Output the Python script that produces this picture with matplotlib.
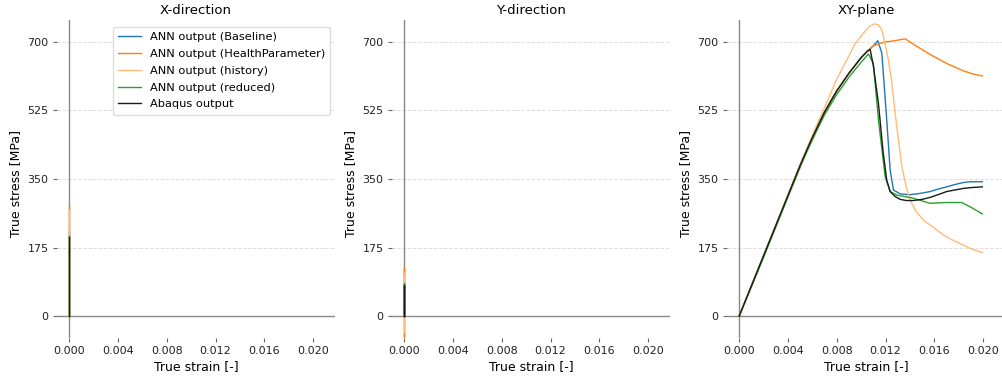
import matplotlib
matplotlib.use("Agg")
import matplotlib.pyplot as plt

# ---------------- data ----------------
series_labels = ["ANN output (Baseline)", "ANN output (HealthParameter)",
                 "ANN output (history)", "ANN output (reduced)", "Abaqus output"]
series_colors = ["#1f77b4", "#ff7f0e", "#ffbb78", "#2ca02c", "#1a1a1a"]

panel_titles = ["X-direction", "Y-direction", "XY-plane"]
y_ticks = [0, 175, 350, 525, 700]
x_ticks = [0.000, 0.004, 0.008, 0.012, 0.016, 0.020]

# X-direction: strain stays at ~0 while stress rises
x_dir_strain = [0.0, 0.0]
x_dir_stress = {
    "ANN output (Baseline)":        [0.0, 215.0],
    "ANN output (HealthParameter)": [0.0, 284.0],
    "ANN output (history)":         [0.0, 270.0],
    "ANN output (reduced)":         [0.0, 205.0],
    "Abaqus output":                [0.0, 202.0],
}

# Y-direction
y_dir_strain = [0.0, 0.0, 0.0]
y_dir_stress = {
    "ANN output (Baseline)":        [0.0, 80.0, 0.0],
    "ANN output (HealthParameter)": [0.0, 123.0, -54.0],
    "ANN output (history)":         [0.0, 110.0, -40.0],
    "ANN output (reduced)":         [0.0, 84.0, 0.0],
    "Abaqus output":                [0.0, 80.0, 0.0],
}

# XY-plane (shear)
abaqus_strain = [0.0, 0.002, 0.004, 0.005, 0.0055, 0.006, 0.007, 0.008, 0.009, 0.010,
                 0.0105, 0.01074, 0.0110, 0.01142, 0.0118, 0.0121, 0.01238,
                 0.0128, 0.0132, 0.0137, 0.01429, 0.0150, 0.01566, 0.0164,
                 0.01702, 0.0177, 0.01839, 0.0190, 0.01994]
abaqus_stress = [0.0, 154.0, 308.0, 385.0, 421.0, 456.0, 521.0, 575.0, 620.0, 660.0,
                 676.0, 681.0, 640.0, 543.0, 420.0, 347.0, 318.0,
                 305.0, 298.0, 295.0, 295.0, 298.0, 303.0, 311.0,
                 318.0, 322.0, 326.0, 328.0, 330.0]

baseline_strain = [0.0, 0.002, 0.004, 0.005, 0.0055, 0.006, 0.007, 0.008, 0.009, 0.010,
                   0.0105, 0.0110, 0.01137, 0.0117, 0.0121, 0.01238, 0.01265,
                   0.0132, 0.0140, 0.01457, 0.0150, 0.01566, 0.0164, 0.01702,
                   0.0177, 0.01839, 0.0190, 0.01994]
baseline_stress = [0.0, 154.0, 308.0, 385.0, 421.0, 456.0, 521.0, 575.0, 620.0, 660.0,
                   676.0, 690.0, 703.0, 671.0, 501.0, 373.0, 322.0,
                   312.0, 310.0, 312.0, 314.0, 318.0, 325.0, 330.0,
                   336.0, 341.0, 343.0, 343.0]

health_strain = [0.0, 0.002, 0.004, 0.005, 0.0055, 0.006, 0.007, 0.008, 0.009, 0.010,
                 0.0105, 0.0110, 0.01183, 0.0127, 0.01361, 0.0145, 0.01566,
                 0.01702, 0.01839, 0.0192, 0.01994]
health_stress = [0.0, 154.0, 308.0, 385.0, 421.0, 456.0, 521.0, 575.0, 620.0, 660.0,
                 676.0, 690.0, 699.0, 703.0, 708.0, 690.0, 668.0,
                 645.0, 626.0, 618.0, 613.0]

history_strain = [0.0, 0.002, 0.004, 0.005, 0.0055, 0.006, 0.007, 0.00746, 0.008,
                  0.00883, 0.0095, 0.01019, 0.0107, 0.01107, 0.0114, 0.0117, 0.0120,
                  0.01224, 0.0125, 0.01279, 0.0131, 0.01334, 0.0137, 0.01402,
                  0.0145, 0.01511, 0.0160, 0.01675, 0.0175, 0.01839, 0.0190,
                  0.01994]
history_stress = [0.0, 154.0, 310.0, 388.0, 425.0, 462.0, 533.0, 565.0, 605.0,
                  654.0, 695.0, 722.0, 740.0, 746.0, 744.0, 731.0, 690.0,
                  654.0, 600.0, 518.0, 440.0, 381.0, 330.0, 296.0,
                  268.0, 245.0, 225.0, 207.0, 194.0, 181.0, 172.0,
                  162.0]

reduced_strain = [0.0, 0.002, 0.004, 0.005, 0.0055, 0.006, 0.007, 0.008, 0.009, 0.010,
                  0.0106, 0.0110, 0.01142, 0.01197, 0.01238, 0.01292, 0.0136,
                  0.01429, 0.0150, 0.01566, 0.01702, 0.01825, 0.0190, 0.01994]
reduced_stress = [0.0, 150.0, 304.0, 380.0, 416.0, 450.0, 514.0, 566.0, 610.0, 648.0,
                  669.0, 645.0, 501.0, 356.0, 318.0, 309.0, 305.0,
                  301.0, 294.0, 288.0, 290.0, 290.0, 278.0, 261.0]

xy_strain = {
    "ANN output (Baseline)": baseline_strain,
    "ANN output (HealthParameter)": health_strain,
    "ANN output (history)": history_strain,
    "ANN output (reduced)": reduced_strain,
    "Abaqus output": abaqus_strain,
}
xy_stress = {
    "ANN output (Baseline)": baseline_stress,
    "ANN output (HealthParameter)": health_stress,
    "ANN output (history)": history_stress,
    "ANN output (reduced)": reduced_stress,
    "Abaqus output": abaqus_stress,
}

# ---------------- figure ----------------
fig = plt.figure(figsize=(10.03, 3.8), dpi=100)
W, H = 1003.0, 380.0
lefts = [57, 392, 727]
ax_w, top_px, bot_px = 278, 20, 338

panels = [
    ({k: x_dir_strain for k in series_labels}, x_dir_stress),
    ({k: y_dir_strain for k in series_labels}, y_dir_stress),
    (xy_strain, xy_stress),
]

for i, (strains, stresses) in enumerate(panels):
    ax = fig.add_axes([lefts[i] / W, 1 - bot_px / H, ax_w / W, (bot_px - top_px) / H])
    for s in ax.spines.values():
        s.set_visible(False)
    ax.axhline(0, color="#888888", lw=1.0, zorder=1)
    ax.axvline(0, color="#888888", lw=1.0, zorder=1)
    ax.set_yticks(y_ticks)
    ax.set_xticks(x_ticks)
    ax.set_xticklabels([f"{v:.3f}" for v in x_ticks])
    ax.grid(axis="y", color="#dddddd", linestyle="--", linewidth=0.7)
    ax.set_axisbelow(True)
    ax.tick_params(axis="both", length=3, color="#666666", labelsize=8,
                   labelcolor="#222222", pad=3)
    for lab, col in zip(series_labels, series_colors):
        ax.plot(strains[lab], stresses[lab], color=col, lw=1.0, label=lab, zorder=3)
    ax.set_xlim(-0.001, 0.0218)
    ax.set_ylim(-56, 756)
    ax.set_title(panel_titles[i], fontsize=9.5, pad=4)
    ax.set_xlabel("True strain [-]", fontsize=9)
    ax.set_ylabel("True stress [MPa]", fontsize=9)
    ax.xaxis.set_label_coords(0.5, -0.069)
    ax.yaxis.set_label_coords(-0.126, 0.485)
    if i == 0:
        ax.legend(loc="upper right", bbox_to_anchor=(0.982, 0.978),
                  borderaxespad=0.0, fontsize=8.2, frameon=True,
                  edgecolor="#dddddd", framealpha=1.0, handlelength=2.0,
                  labelspacing=0.6, borderpad=0.45)

fig.savefig("out.png", dpi=100)
